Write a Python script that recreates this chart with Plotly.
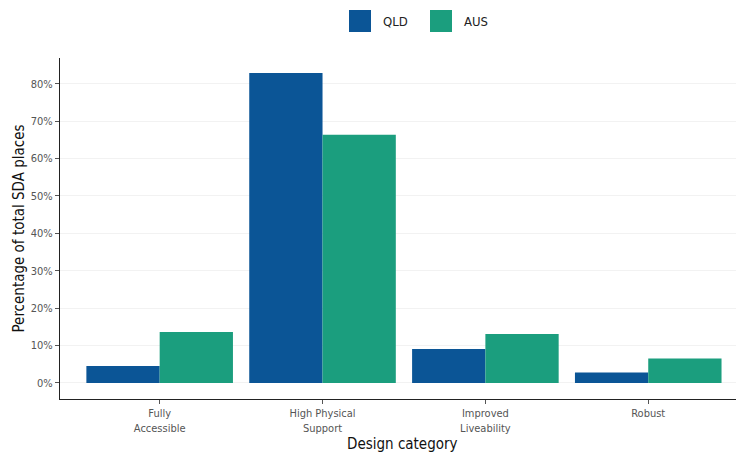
import plotly.graph_objects as go

categories = ["Fully<br>Accessible", "High Physical<br>Support", "Improved<br>Liveability", "Robust"]
series_names = ["QLD", "AUS"]
qld = [4.5, 82.9, 9.1, 2.8]
aus = [13.6, 66.4, 13.1, 6.5]
y_ticks = [0, 10, 20, 30, 40, 50, 60, 70, 80]
y_tick_labels = [f"{v}%" for v in y_ticks]
colors = ["#0b5596", "#1b9e7e"]

FONT = "DejaVu Sans Condensed, Liberation Sans Narrow, sans-serif"

# page body adds 8px offset; plot area spans x 60..745, y 58..399 in the viewport
PL, PT, PW, PH = 52, 50, 684, 341

fig = go.Figure()
for name, vals, col in zip(series_names, [qld, aus], colors):
    fig.add_trace(go.Bar(name=name, x=list(range(4)), y=vals,
                         marker=dict(color=col, line=dict(width=0))))

fig.update_layout(
    width=PL + PW, height=448,
    barmode="group", bargap=0.1, bargroupgap=0,
    plot_bgcolor="white", paper_bgcolor="white",
    margin=dict(l=PL, r=0, t=PT, b=448 - PT - PH),
    font=dict(family=FONT, color="#333333"),
    showlegend=False,
    xaxis=dict(
        automargin=False,
        range=[-0.612, 3.588], tickmode="array", tickvals=list(range(4)), ticktext=categories,
        showline=True, linecolor="#222", linewidth=1.2, ticks="outside", ticklen=4,
        tickcolor="#555", tickfont=dict(size=11, color="#555"), showgrid=False, zeroline=False,
    ),
    yaxis=dict(
        automargin=False,
        range=[-4.3, 86.9], tickmode="array", tickvals=y_ticks, ticktext=y_tick_labels,
        showline=True, linecolor="#222", linewidth=1.2, ticks="outside", ticklen=4,
        tickcolor="#555", tickfont=dict(size=11, color="#555"), showgrid=True,
        gridcolor="#f2f2f2", zeroline=False,
    ),
)

# axis titles
fig.add_annotation(text="Design category", xref="paper", yref="paper", x=0.5, y=0,
                   yshift=-45, showarrow=False, xanchor="center", yanchor="middle",
                   font=dict(size=15, color="#111", family=FONT))
fig.add_annotation(text="Percentage of total SDA places", xref="paper", yref="paper", x=0,
                   y=0.5, xshift=-42, textangle=-90, showarrow=False, xanchor="center",
                   yanchor="middle", font=dict(size=15, color="#111", family=FONT))

# legend (squares + labels) at top; coordinates in viewport pixels
legend_x = [349, 430]
for name, col, lx in zip(series_names, colors, legend_x):
    fig.add_shape(type="rect", xref="paper", yref="paper",
                  x0=(lx - 60) / PW, x1=(lx + 22 - 60) / PW,
                  y0=(399 - 32) / PH, y1=(399 - 10) / PH,
                  fillcolor=col, line=dict(width=0))
    fig.add_annotation(text=name, xref="paper", yref="paper", x=(lx + 32 - 60) / PW,
                       y=(399 - 21) / PH, showarrow=False, xanchor="left", yanchor="middle",
                       font=dict(size=13, color="#222", family=FONT))

fig.write_html("out.html")
